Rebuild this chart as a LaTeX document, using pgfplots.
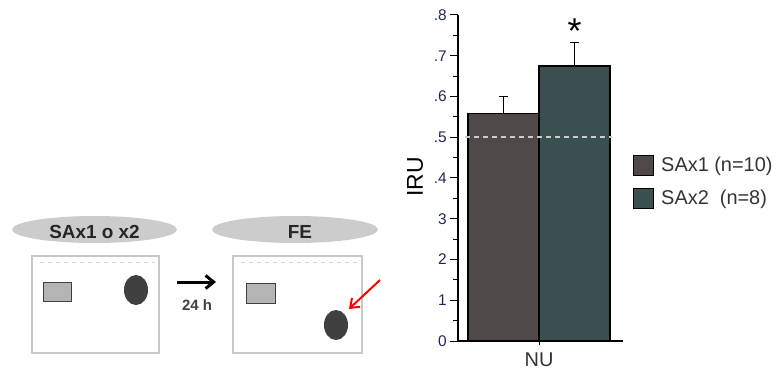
\documentclass[border=0pt]{standalone}
\usepackage{fontspec}
\setmainfont{Liberation Sans}
\usepackage{pgfplots}
\pgfplotsset{compat=1.18}
\usetikzlibrary{arrows.meta}
\definecolor{barA}{RGB}{80,73,73}
\definecolor{barB}{RGB}{58,79,80}
\definecolor{boxgray}{RGB}{200,200,200}
\definecolor{hdrgray}{RGB}{204,204,204}
\definecolor{objgray}{RGB}{180,180,180}
\definecolor{objdark}{RGB}{64,64,64}
\definecolor{ticklab}{RGB}{30,40,90}
\begin{document}
\begin{tikzpicture}[x=1bp,y=1bp]
\useasboundingbox (0,0) rectangle (776,374);
% ---- schematic ----
\fill[hdrgray] (94.5,144.5) ellipse [x radius=82.5, y radius=13.5];
\node[anchor=base, text=black!85, font=\bfseries\fontsize{19}{19}\selectfont, inner sep=0pt] at (94.5,136) {SAx1 o x2};
\fill[hdrgray] (295,144.5) ellipse [x radius=83, y radius=13.5];
\node[anchor=base, text=black!85, font=\bfseries\fontsize{19}{19}\selectfont, inner sep=0pt] at (300,136) {FE};
% box 1
\draw[boxgray, line width=2bp, fill=white] (32,21) rectangle (159,118);
\draw[boxgray!70, line width=1bp, dash pattern=on 4bp off 4bp] (40,112) -- (155,112);
\draw[objdark, fill=objgray, line width=1bp] (43,73) rectangle (71,92);
\fill[objdark] (136,84) ellipse [x radius=12, y radius=15];
% arrow
\draw[black, line width=3bp, -{Straight Barb[length=8bp,width=13bp]}] (177,92) -- (216,92);
\node[anchor=base, text=black!75, font=\bfseries\fontsize{15}{15}\selectfont, inner sep=0pt] at (197,64) {24 h};
% box 2
\draw[boxgray, line width=2bp, fill=white] (233,21) rectangle (362,118);
\draw[boxgray!70, line width=1bp, dash pattern=on 4bp off 4bp] (241,112) -- (358,112);
\draw[objdark, fill=objgray, line width=1bp] (246,71) rectangle (275,91);
\fill[objdark] (336,49) ellipse [x radius=12, y radius=15];
\draw[red, line width=2bp, -{Straight Barb[length=8bp,width=12bp]}] (380,94) -- (349,65);
% ---- bar chart ----
\node[rotate=90, font=\fontsize{23}{23}\selectfont, inner sep=0pt] at (415,197) {IRU};
\begin{axis}[
  at={(458bp,33bp)}, anchor=south west,
  scale only axis, width=165bp, height=326bp,
  xmin=-1.141, xmax=1.183, ymin=0, ymax=0.8,
  axis x line*=bottom, axis y line*=left,
  axis line style={line width=1.5bp, black},
  ybar, bar width=1, bar shift=0pt,
  clip=false,
  ytick={0,0.1,0.2,0.3,0.4,0.5,0.6,0.7,0.8},
  yticklabels={0,1,2,3,.4,.5,.6,.7,.8},
  minor ytick={0.05,0.15,0.25,0.35,0.45,0.55,0.65,0.75},
  tick align=outside,
  major tick length=8bp, minor tick length=5bp,
  tick style={black, line width=1bp},
  xtick={0}, xticklabels={NU},
  xtick style={/pgfplots/major tick length=4bp},
  yticklabel style={text=ticklab, font=\fontsize{15.5}{15.5}\selectfont, inner sep=3bp},
  xticklabel style={font=\fontsize{20}{20}\selectfont, text=black!80},
  legend style={at={(1.0606,0.4877)}, anchor=west, draw=none, fill=none,
    inner sep=0pt, row sep=12bp, column sep=7bp,
    font=\fontsize{20}{20}\selectfont, text=black!80,
    nodes={inner sep=0pt}},
  legend cell align=left,
  legend image code/.code={\draw[#1, draw=black, line width=1bp] (0bp,-10bp) rectangle (20bp,10bp);},
]
\addplot[fill=barA, draw=black, line width=1.2bp,
  error bars/.cd, y dir=plus, y explicit,
  error bar style={line width=1.2bp, black},
  error mark options={rotate=90, mark size=4.5bp, line width=1.2bp, black}]
  coordinates {(-0.5,0.559) +- (0,0.041)};
\addlegendentry{SAx1 (n=10)}
\addplot[fill=barB, draw=black, line width=1.2bp,
  error bars/.cd, y dir=plus, y explicit,
  error bar style={line width=1.2bp, black},
  error mark options={rotate=90, mark size=4.5bp, line width=1.2bp, black}]
  coordinates {(0.5,0.675) +- (0,0.058)};
\addlegendentry{SAx2\ \ (n=8)}
\addplot[sharp plot, forget plot, draw=black!20, line width=1.5bp, dash pattern=on 5bp off 4bp]
  coordinates {(-1.042,0.5) (1.03,0.5)};
\node[anchor=base, font=\fontsize{36}{36}\selectfont, inner sep=0pt] at (axis cs:0.5,0.730) {*};
\end{axis}
\end{tikzpicture}
\end{document}
